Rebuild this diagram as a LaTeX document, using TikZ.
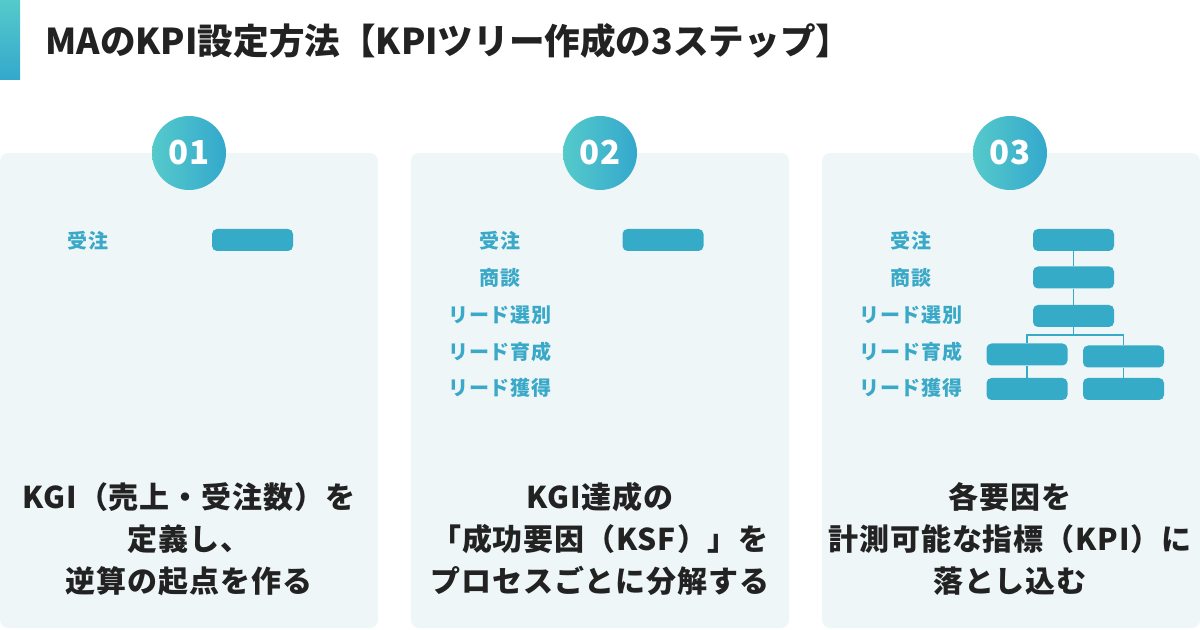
\documentclass[tikz,border=0pt]{standalone}
\usepackage{fontspec}
\setmainfont{Noto Sans CJK JP}
\newfontfamily\jpwide[LetterSpace=3]{Noto Sans CJK JP}
\usetikzlibrary{calc}

\definecolor{cardbg}{HTML}{EEF6F8}
\definecolor{barblue}{HTML}{36ABC8}
\definecolor{labelblue}{HTML}{3AA9C8}
\definecolor{tealL}{HTML}{55CACB}
\definecolor{tealR}{HTML}{34A8CC}
\definecolor{ink}{HTML}{222222}

\begin{document}
\begin{tikzpicture}[x=0.5pt,y=-0.5pt,
    card/.style={fill=cardbg,rounded corners=4pt},
    stepnum/.style={circle,minimum size=37pt,inner sep=0pt,left color=tealL,right color=tealR,
      text=white,font=\bfseries\fontsize{16.5}{16.5}\selectfont},
    lbl/.style={text=labelblue,inner sep=0pt,font=\jpwide\bfseries\fontsize{10}{10}\selectfont},
    bar/.style={fill=barblue,rounded corners=2.5pt,minimum width=40.5pt,minimum height=11pt,inner sep=0pt},
    desc/.style={text=ink,align=center,inner sep=0pt,font=\jpwide\bfseries\fontsize{15}{21}\selectfont},
    link/.style={draw=barblue,line width=0.6pt}]

    % Fix the canvas
    \useasboundingbox (0,0) rectangle (1200,630);

    % Title with its bar
    \shade[top color=tealL,bottom color=tealR] (0,0) rectangle (20,80);
    \node[anchor=base west,inner sep=0pt,text=ink,font=\bfseries\fontsize{17.8}{17.8}\selectfont] (title) at (45,55)
        {MAのKPI設定方法【KPIツリー作成の3ステップ】};

    % Place the cards
    \fill[card] (0,153) rectangle (378,628);
    \fill[card] (411,153) rectangle (789,628);
    \fill[card] (822,153) rectangle (1200,628);

    % Place the step numbers
    \node[stepnum] (s1) at (189,153) {01};
    \node[stepnum] (s2) at (600,153) {02};
    \node[stepnum] (s3) at (1010,153) {03};

    % Step 1
    \node[lbl] (a1) at (88,241) {受注};
    \node[bar] (b1) at (252.5,240) {};
    \node[desc] (d1) at (189,539) {KGI（売上・受注数）を\\定義し、\\逆算の起点を作る};

    % Step 2
    \node[lbl] (p1) at (500,241) {受注};
    \node[lbl] (p2) at (500,278) {商談};
    \node[lbl] (p3) at (500,315) {リード選別};
    \node[lbl] (p4) at (500,352) {リード育成};
    \node[lbl] (p5) at (500,388) {リード獲得};
    \node[bar] (b2) at (663,240) {};
    \node[desc] (d2) at (600,539) {KGI達成の\\「成功要因（KSF）」を\\プロセスごとに分解する};

    % Step 3
    \node[lbl] (q1) at (911,241) {受注};
    \node[lbl] (q2) at (911,278) {商談};
    \node[lbl] (q3) at (911,315) {リード選別};
    \node[lbl] (q4) at (911,352) {リード育成};
    \node[lbl] (q5) at (911,388) {リード獲得};
    \node[desc] (d3) at (1010,539) {各要因を\\計測可能な指標（KPI）に\\落とし込む};

    % The KPI tree
    \node[bar] (t1) at (1073.5,240) {};
    \node[bar] (t2) at (1073.5,277.5) {};
    \node[bar] (t3) at (1073.5,316) {};
    \node[bar] (t4a) at (1027,354.5) {};
    \node[bar] (t4b) at (1123.5,356.5) {};
    \node[bar] (t5a) at (1027,389) {};
    \node[bar] (t5b) at (1123.5,389) {};
    \coordinate (fork) at (1073.5,335);

    \draw[link] (t1) -- (t2);
    \draw[link] (t2) -- (t3);
    \draw[link] (t3) -- (fork) -| (t4a);
    \draw[link] (fork) -| (t4b);
    \draw[link] (t4a) -- (t5a);
    \draw[link] (t4b) -- (t5b);

\end{tikzpicture}
\end{document}
